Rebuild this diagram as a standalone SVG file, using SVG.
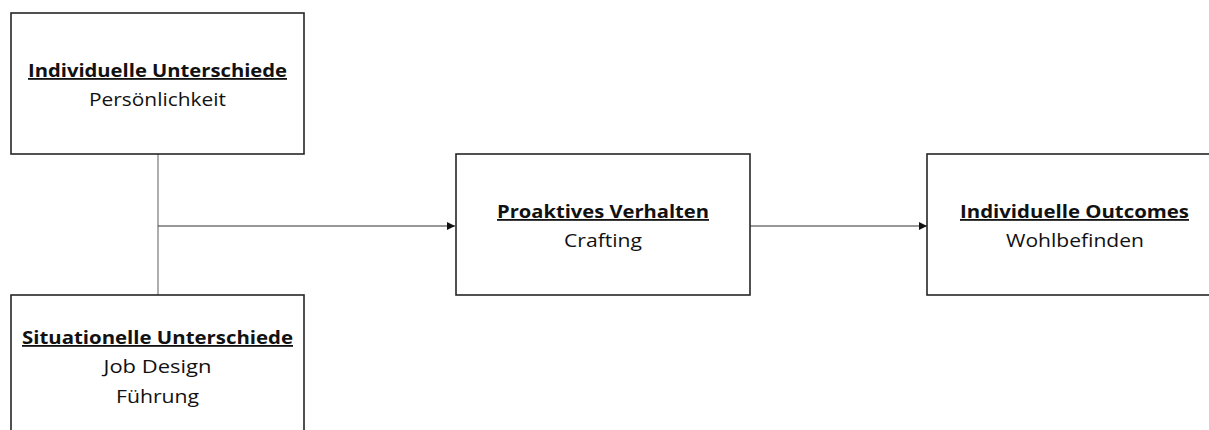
<svg xmlns="http://www.w3.org/2000/svg" width="1209" height="430" viewBox="0 0 1209 430">
  <style>
    .box { fill: #ffffff; stroke: #262626; stroke-width: 1.6; }
    .title { font-family: "Open Sans", "Liberation Sans", sans-serif; font-weight: bold; font-size: 18px; fill: #111111; text-anchor: middle; text-decoration: underline; }
    .sub { font-family: "Open Sans", "Liberation Sans", sans-serif; font-size: 19px; fill: #111111; text-anchor: middle; }
    .link { fill: none; stroke: #333333; stroke-width: 1.2; }
    .joint { fill: none; stroke: #777777; stroke-width: 1.2; }
  </style>
  <defs>
    <marker id="arrow" viewBox="0 0 10 10" refX="10" refY="5" markerWidth="8" markerHeight="8" markerUnits="userSpaceOnUse" orient="auto">
      <path d="M0,0 L10,5 L0,10 Z" fill="#111111"/>
    </marker>
  </defs>
  <rect width="1209" height="430" fill="#ffffff"/>

  <!-- connectors -->
  <g id="connectors">
    <line class="joint" x1="158" y1="154" x2="158" y2="295"/>
    <line class="link" x1="158" y1="226" x2="455" y2="226" marker-end="url(#arrow)"/>
    <line class="link" x1="750" y1="226" x2="927" y2="226" marker-end="url(#arrow)"/>
  </g>

  <!-- individual differences -->
  <g id="node-individuelle-unterschiede">
    <rect class="box" x="11" y="13" width="293" height="141"/>
    <text class="title" x="157.5" y="77" textLength="259" lengthAdjust="spacingAndGlyphs">Individuelle Unterschiede</text>
    <text class="sub" x="157.5" y="106" textLength="137" lengthAdjust="spacingAndGlyphs">Persönlichkeit</text>
  </g>

  <!-- situational differences -->
  <g id="node-situationelle-unterschiede">
    <rect class="box" x="11" y="295" width="293" height="150"/>
    <text class="title" x="157.5" y="344" textLength="271" lengthAdjust="spacingAndGlyphs">Situationelle Unterschiede</text>
    <text class="sub" x="157.5" y="373" textLength="108" lengthAdjust="spacingAndGlyphs">Job Design</text>
    <text class="sub" x="157.5" y="403" textLength="83" lengthAdjust="spacingAndGlyphs">Führung</text>
  </g>

  <!-- proactive behaviour -->
  <g id="node-proaktives-verhalten">
    <rect class="box" x="456" y="154" width="294" height="141"/>
    <text class="title" x="603" y="218" textLength="212" lengthAdjust="spacingAndGlyphs">Proaktives Verhalten</text>
    <text class="sub" x="603" y="247" textLength="78" lengthAdjust="spacingAndGlyphs">Crafting</text>
  </g>

  <!-- individual outcomes -->
  <g id="node-individuelle-outcomes">
    <rect class="box" x="927" y="154" width="295" height="141"/>
    <text class="title" x="1074.5" y="218" textLength="229" lengthAdjust="spacingAndGlyphs">Individuelle Outcomes</text>
    <text class="sub" x="1075" y="247" textLength="138" lengthAdjust="spacingAndGlyphs">Wohlbefinden</text>
  </g>
</svg>
